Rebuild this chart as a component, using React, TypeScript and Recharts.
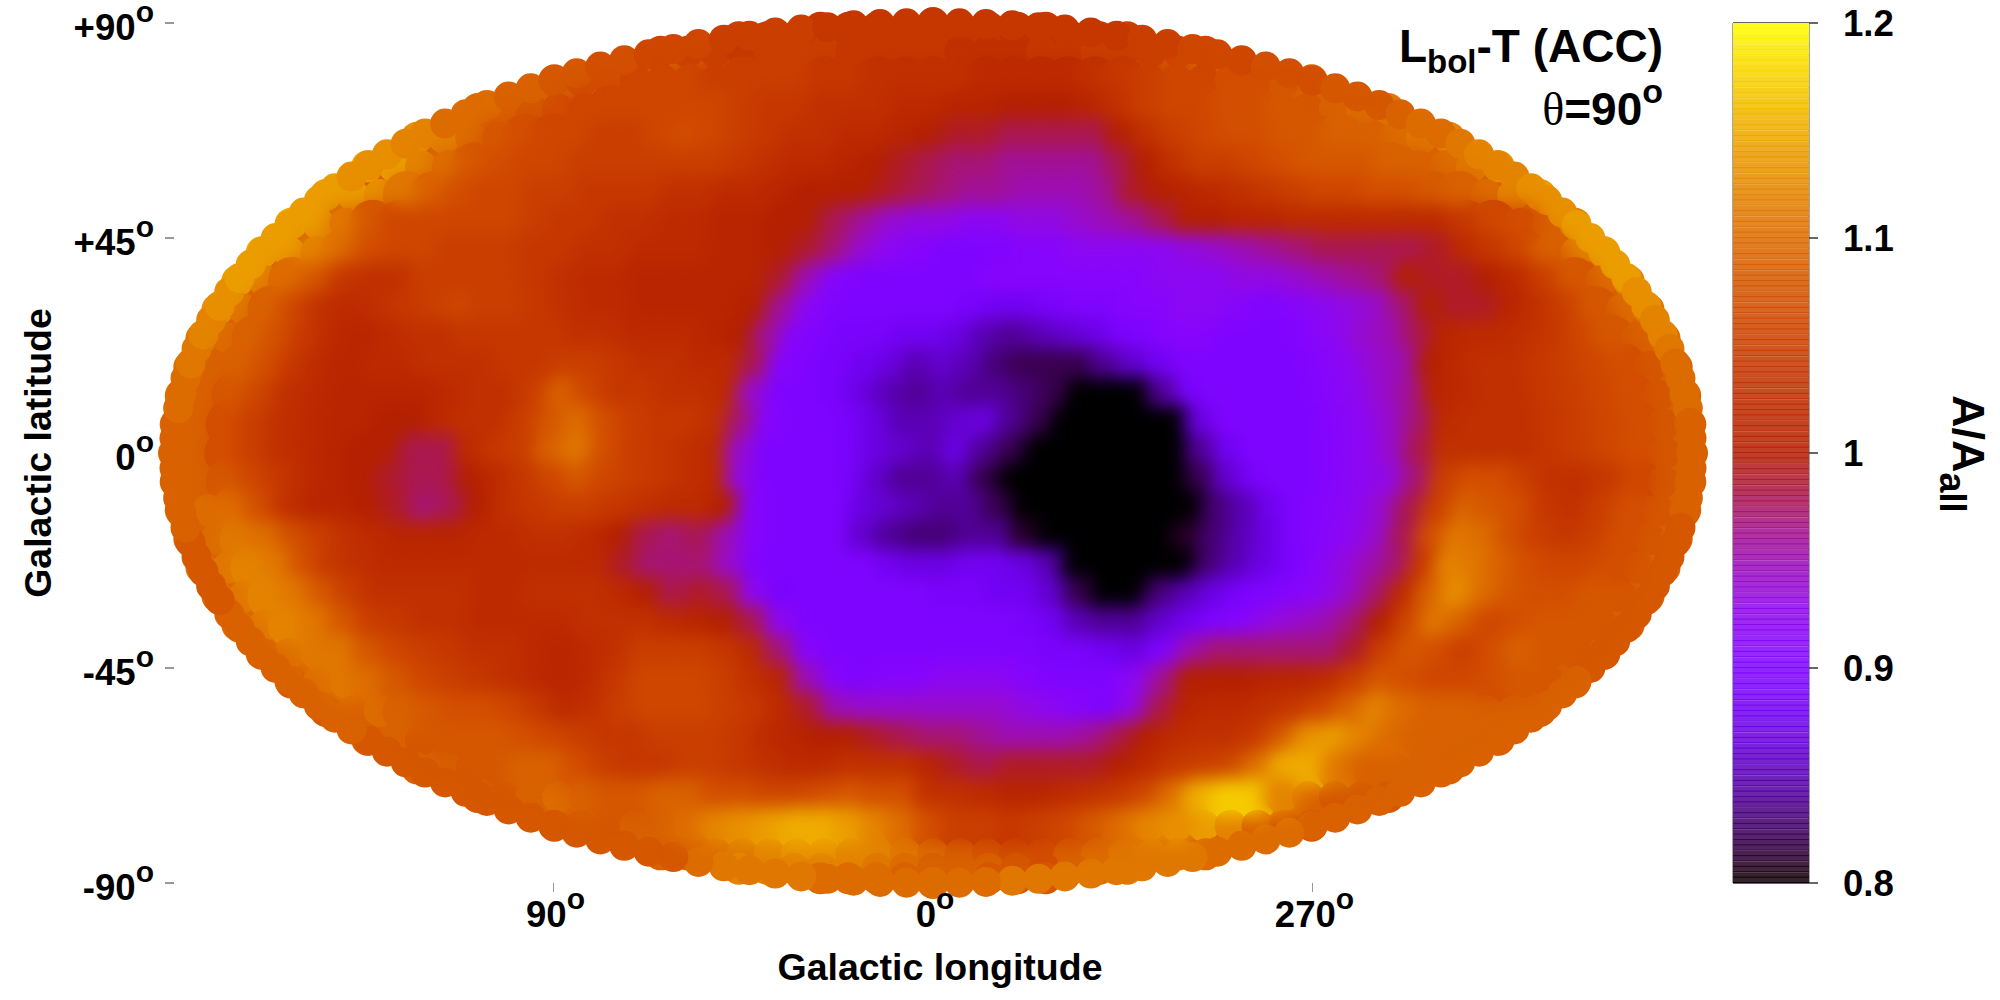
import React from "react";
import { ScatterChart, Scatter, XAxis, YAxis, ReferenceLine } from "recharts";

// A/A_all x 100, left to right on the page.
const lat90N = [104];
const lat89N = [104,104,104,104,104,104,104,104,104];
const lat87N = [105,105,105,104,104,104,104,104,104,104,103,103,104,104,105];
const lat84N = [106,105,105,104,105,105,105,104,104,104,104,103,103,103,104,104,105,105,105,106,106];
const lat78N = [108,107,107,106,106,106,105,105,105,105,104,104,103,103,103,103,102,102,102,102,103,104,105,106,106,107,107,108,109];
const lat72N = [110,109,108,107,106,106,106,106,106,106,105,104,104,103,103,103,102,102,101,101,100,100,100,101,103,105,106,106,107,107,108,108,109,110,111];
const lat66N = [113,112,110,108,107,106,106,105,105,106,107,106,105,104,103,103,102,102,101,100,99,99,98,98,98,98,100,103,105,106,107,107,108,108,109,109,110,111,112];
const lat60N = [114,114,112,110,108,107,106,106,105,105,105,105,105,105,104,103,102,102,101,100,99,98,97,97,96,96,96,96,98,100,103,105,105,106,107,108,108,108,109,109,110,111,113];
const lat54N = [114,114,113,111,109,107,106,106,105,105,104,104,104,103,103,102,102,101,100,100,100,99,98,97,96,96,95,95,95,96,99,100,101,102,103,104,105,106,106,107,107,108,109,110,112,114];
const lat48N = [115,114,111,108,106,106,106,106,106,105,104,104,103,103,102,102,101,101,100,100,98,96,94,93,93,92,92,93,93,94,95,96,98,100,100,101,101,102,102,102,102,102,102,104,106,107,109,112];
const lat42N = [115,114,112,110,107,106,106,105,105,105,104,104,103,103,102,102,102,101,101,100,99,97,94,92,91,90,90,90,91,91,92,92,92,92,93,94,95,96,97,98,98,98,98,99,102,104,106,109,112,114];
const lat36N = [114,112,110,108,104,103,103,105,105,105,105,104,103,102,102,101,101,101,101,101,99,95,91,90,90,90,90,90,91,91,91,91,91,91,92,92,92,93,93,94,95,96,97,100,99,99,100,102,105,108,110,112];
const lat30N = [113,111,109,106,103,102,103,104,105,106,105,105,104,103,102,102,101,101,101,101,100,96,92,90,90,90,90,90,89,88,88,89,90,90,91,91,92,92,91,90,91,92,93,94,97,100,99,99,101,103,105,108,110,111];
const lat24N = [111,110,109,107,104,102,101,102,103,103,104,104,104,104,103,103,102,102,102,101,100,96,91,90,89,89,88,88,87,85,84,85,86,87,89,90,91,91,90,90,90,91,92,94,95,98,101,102,102,103,104,106,108,109,110];
const lat18N = [110,109,109,107,104,102,101,102,102,103,103,103,104,104,105,105,104,103,103,102,102,98,91,90,89,88,87,85,86,85,83,82,82,82,84,86,88,90,90,90,90,90,91,92,94,95,100,102,103,103,104,105,106,107,108,109];
const lat12N = [110,109,108,106,103,102,101,101,101,101,102,103,103,105,109,106,104,104,103,103,102,94,90,90,89,87,85,84,85,84,84,83,82,80,76,76,84,89,90,90,90,90,91,92,94,96,101,102,103,103,104,105,106,107,108,109];
const lat06N = [110,109,107,105,103,102,101,101,100,100,102,103,103,105,108,110,107,105,104,104,103,97,91,90,90,89,87,85,85,86,87,84,82,78,75,75,75,78,87,90,90,90,90,91,92,94,97,102,103,103,103,104,105,106,107,108,109];
const lat00 = [110,109,107,105,103,102,101,100,100,98,98,102,104,105,109,111,107,105,104,103,102,94,90,90,90,89,87,86,85,87,84,82,77,74,74,74,74,76,84,88,90,90,90,91,92,94,98,103,103,103,103,104,105,106,107,108,109];
const lat06S = [109,109,108,106,104,102,101,100,99,98,98,100,102,104,106,108,106,105,104,103,102,93,90,90,90,89,86,84,84,85,82,80,75,74,74,74,74,75,82,86,89,90,90,91,92,93,97,105,107,107,105,103,103,104,106,108,109];
const lat12S = [109,110,110,107,103,101,101,100,99,97,98,100,103,104,105,105,104,103,102,102,100,91,90,90,90,87,86,85,84,84,82,78,75,74,74,74,74,78,83,85,88,90,91,92,94,98,105,109,108,107,104,103,105,107,108,109];
const lat18S = [109,110,111,110,107,105,103,102,101,101,101,102,102,103,103,102,100,98,97,98,95,91,90,90,90,86,84,83,83,84,84,81,77,74,74,74,75,81,83,85,87,90,91,92,94,98,107,111,110,107,105,104,105,107,108,109];
const lat24S = [110,111,112,111,107,104,103,102,102,102,102,102,102,102,102,102,99,97,97,97,94,90,90,90,90,90,88,87,87,88,88,87,85,79,75,75,76,80,83,85,87,89,91,93,95,97,104,112,111,109,107,106,106,107,108,109];
const lat30S = [110,111,112,111,108,105,103,103,103,103,102,102,103,103,103,102,100,98,99,98,92,89,90,90,90,90,90,89,89,88,88,86,82,78,79,83,85,87,89,90,91,92,94,97,102,109,113,110,108,107,107,108,108,109];
const lat36S = [110,111,112,111,108,105,104,103,103,102,102,102,102,103,103,103,102,101,100,98,92,90,90,90,90,90,90,90,90,89,88,85,84,84,86,88,90,91,93,94,95,97,100,106,111,109,106,107,108,108,108,109];
const lat42S = [109,110,111,111,108,106,105,104,103,103,102,101,102,103,105,105,105,104,102,97,91,90,90,90,90,90,90,90,90,89,89,88,87,90,95,97,97,97,97,97,99,105,108,107,105,107,109,108,108,108];
const lat48S = [108,110,111,110,108,106,105,104,103,102,101,102,104,106,106,106,105,103,101,95,91,90,91,91,92,92,92,91,90,90,90,92,96,100,100,100,101,101,102,105,108,107,106,106,107,108,108,109];
const lat54S = [108,109,110,109,108,107,107,106,104,102,103,105,106,106,106,105,104,102,99,95,94,94,94,94,94,94,93,92,91,90,93,98,101,102,102,103,104,106,109,112,110,109,109,109,109,109];
const lat60S = [109,109,108,108,108,108,107,106,105,104,104,105,105,105,104,102,101,100,100,99,98,97,97,96,95,95,95,96,98,100,102,103,103,104,108,113,114,112,110,109,109,109,109];
const lat66S = [109,109,108,108,109,109,107,105,104,104,105,105,104,103,102,102,103,103,103,101,99,98,99,99,99,99,100,102,104,105,106,110,115,115,111,109,109,109,109];
const lat72S = [108,108,109,110,109,108,108,109,109,107,107,106,106,107,108,107,107,103,103,102,101,101,102,103,104,106,110,115,117,117,112,109,108,108,108];
const lat78S = [108,108,108,109,109,110,112,113,114,115,115,114,112,110,107,105,105,104,105,106,108,110,112,113,114,112,109,108,108];
const lat84S = [109,109,110,111,112,113,113,112,112,111,110,109,108,107,107,109,110,111,111,111,110];
const lat87S = [112,112,112,112,112,111,110,109,109,109,108,107,109,110,111];
const lat89S = [110,110,110,109,109,109,108,108,108];
const lat90S = [110];

// Rim of the map, clockwise from the top, one value every 2 degrees of the ellipse.
const rimValues = [
  104,104,104,104,104,104,104,104,105,105,
  106,106,106,107,107,107,108,108,108,109,
  110,110,111,112,112,112,113,113,113,114,
  114,114,114,114,113,113,112,112,111,110,
  110,110,110,109,109,109,109,109,109,109,
  108,108,108,108,108,108,108,108,108,108,
  108,109,109,109,109,109,109,109,109,109,
  109,109,109,109,109,109,110,110,110,110,
  111,111,111,111,111,111,111,111,110,110,
  110,110,110,110,110,111,111,111,111,110,
  108,108,108,108,108,108,108,108,108,108,
  108,108,108,108,108,109,109,109,109,109,
  109,109,109,109,109,108,108,108,108,108,
  109,109,109,109,109,109,109,109,110,110,
  110,111,111,112,112,113,113,114,114,114,
  114,114,114,114,114,113,113,113,112,112,
  110,110,110,109,109,108,108,107,107,106,
  106,106,105,105,105,105,104,104,104,104,
];

const rowLatitudes = [90,89,87,84,78,72,66,60,54,48,42,36,30,24,18,12,6,0,-6,-12,-18,-24,-30,-36,-42,-48,-54,-60,-66,-72,-78,-84,-87,-89,-90];
const rowValues = [lat90N,lat89N,lat87N,lat84N,lat78N,lat72N,lat66N,lat60N,lat54N,lat48N,lat42N,lat36N,lat30N,lat24N,lat18N,lat12N,lat06N,lat00,lat06S,lat12S,lat18S,lat24S,lat30S,lat36S,lat42S,lat48S,lat54S,lat60S,lat66S,lat72S,lat78S,lat84S,lat87S,lat89S,lat90S];

const latitudeTicks = [90, 45, 0, -45, -90];
const longitudeTicks = [-90, 0, 90];
const longitudeLabels = ["90", "0", "270"];
const colorbarTicks = [0.8, 0.9, 1, 1.1, 1.2];
const colorbarLevels = [0.8,0.805,0.81,0.815,0.82,0.825,0.83,0.835,0.84,0.845,0.85,0.855,0.86,0.865,0.87,0.875,0.88,0.885,0.89,0.895,0.9,0.905,0.91,0.915,0.92,0.925,0.93,0.935,0.94,0.945,0.95,0.955,0.96,0.965,0.97,0.975,0.98,0.985,0.99,0.995,1,1.005,1.01,1.015,1.02,1.025,1.03,1.035,1.04,1.045,1.05,1.055,1.06,1.065,1.07,1.075,1.08,1.085,1.09,1.095,1.1,1.105,1.11,1.115,1.12,1.125,1.13,1.135,1.14,1.145,1.15,1.155,1.16,1.165,1.17,1.175,1.18,1.185,1.19,1.195];

const FONT = "'Liberation Sans', Arial, sans-serif";
const PLOT_TOP = 23;
const PLOT_BOTTOM = 883;
const BAND_H = (PLOT_BOTTOM - PLOT_TOP) / colorbarLevels.length;

// gnuplot "rgbformulae 7,5,15" palette between 0.8 and 1.2
function paletteColor(v: number): string {
  const t = Math.min(1, Math.max(0, (v - 0.8) / 0.4));
  const r = Math.sqrt(t);
  const g = t * t * t;
  const b = Math.max(0, Math.sin(2 * Math.PI * t));
  const c = (u: number) => Math.round(u * 255);
  return `rgb(${c(r)},${c(g)},${c(b)})`;
}

type Cell = { x: number; y: number; value: number; deep: boolean; inner: boolean };

const cells: Cell[] = rowValues.flatMap((vals, i) => {
  const lat = rowLatitudes[i];
  const s = Math.sqrt(Math.max(0, 1 - (lat / 90) ** 2));
  return vals.map((v, j) => {
    const x = vals.length > 1 ? -180 * s + (360 * s * j) / (vals.length - 1) : 0;
    const deep = (x / 170) ** 2 + (lat / 81) ** 2 < 1;
    const inner = (x / 172) ** 2 + (lat / 83) ** 2 < 1;
    return { x, y: lat, value: v / 100, deep, inner };
  });
});
const innerCells = cells.filter((c) => c.inner);

const rimCells = rimValues.map((v, k) => {
  const phi = (k * 2 * Math.PI) / rimValues.length;
  return { x: 180 * Math.sin(phi), y: 90 * Math.cos(phi), value: v / 100 };
});
const underlayPoint = [{ x: 0, y: 0, value: 1.09 }];

const Underlay = (p: any) => <ellipse cx={p.cx} cy={p.cy} rx={762} ry={432} fill={paletteColor(p.payload.value)} />;
const Dot = (p: any) => <circle cx={p.cx} cy={p.cy} r={p.payload.deep ? 24 : 16} fill={paletteColor(p.payload.value)} />;
const RimDot = (p: any) => <circle cx={p.cx} cy={p.cy} r={15} fill={paletteColor(p.payload.value)} />;
const InnerDot = (p: any) => <circle cx={p.cx} cy={p.cy} r={20} fill={paletteColor(p.payload.value)} />;

const Band = (p: any) => {
  const col = paletteColor(p.payload.level + 0.0025);
  const x0 = p.cx - 38;
  const h = BAND_H;
  return (
    <g>
      <rect x={x0} y={p.cy - h / 2} width={76} height={h} fill={col} />
      <rect x={x0} y={p.cy - h / 2} width={76} height={h / 2 - 1} fill="#ffffff" fillOpacity={0.14} />
      <rect x={x0} y={p.cy} width={76} height={h / 2 - 1} fill="#ffffff" fillOpacity={0.14} />
    </g>
  );
};

const LatTick = (p: any) => {
  const v = p.payload.value;
  const s = v > 0 ? `+${v}` : `${v}`;
  return (
    <text x={154} y={p.y + 17} textAnchor="end" fontFamily={FONT} fontWeight="bold" fontSize={36.6} fill="#000">
      {s}
      <tspan fontSize={30} dy={-18}>o</tspan>
    </text>
  );
};

const LonTick = (p: any) => {
  const i = longitudeTicks.indexOf(p.payload.value);
  return (
    <text x={p.x + 2} y={927} textAnchor="middle" fontFamily={FONT} fontWeight="bold" fontSize={36.6} fill="#000">
      {longitudeLabels[i]}
      <tspan fontSize={30} dy={-18}>o</tspan>
    </text>
  );
};

const BarTick = (p: any) => (
  <text x={1843 - 1650} y={p.y + 13} textAnchor="start" fontFamily={FONT} fontWeight="bold" fontSize={36.6} fill="#000">
    {p.payload.value === 1 ? "1" : p.payload.value.toFixed(1)}
  </text>
);

const barData = colorbarLevels.map((level) => ({ x: 0.5, y: level + 0.0025, level }));

export default function App() {
  return (
    <div style={{ position: "absolute", left: 0, top: 0, width: 2000, height: 1000, background: "#fff", overflow: "hidden" }}>
      <style>{`.map-smooth { filter: blur(9px); }`}</style>
      <div style={{ position: "absolute", left: 0, top: 0 }}>
        <ScatterChart width={1730} height={1000} margin={{ top: PLOT_TOP, right: 38, bottom: 0, left: 0 }}>
          <XAxis
            type="number"
            dataKey="x"
            domain={[-180, 180]}
            ticks={longitudeTicks}
            height={117}
            axisLine={false}
            tickLine={{ stroke: "#999", strokeWidth: 1 }}
            tickSize={9}
            tick={<LonTick />}
            interval={0}
            label={{ value: "Galactic longitude", position: "insideBottom", offset: 20, fontFamily: FONT, fontWeight: "bold", fontSize: 37.5, fill: "#000", dx: 7 }}
          />
          <YAxis
            type="number"
            dataKey="y"
            domain={[-90, 90]}
            ticks={latitudeTicks}
            width={174}
            axisLine={false}
            tickLine={{ stroke: "#333", strokeWidth: 1 }}
            tickSize={9}
            tick={<LatTick />}
            interval={0}
            label={{ value: "Galactic latitude", angle: -90, position: "insideLeft", offset: 38, fontFamily: FONT, fontWeight: "bold", fontSize: 37.5, fill: "#000", style: { textAnchor: "middle" } }}
          />
          <Scatter data={underlayPoint} shape={<Underlay />} isAnimationActive={false} />
          <Scatter data={cells} shape={<Dot />} isAnimationActive={false} />
          <Scatter data={rimCells} shape={<RimDot />} isAnimationActive={false} />
          <Scatter data={innerCells} shape={<InnerDot />} isAnimationActive={false} className="map-smooth" />
        </ScatterChart>
      </div>
      <div style={{ position: "absolute", left: 1650, top: 0 }}>
        <ScatterChart width={350} height={1000} margin={{ top: PLOT_TOP, right: 0, bottom: 1000 - PLOT_BOTTOM, left: 83 }}>
          <XAxis type="number" dataKey="x" domain={[0, 1]} hide />
          <YAxis
            type="number"
            dataKey="y"
            orientation="right"
            domain={[0.8, 1.2]}
            ticks={colorbarTicks}
            width={191}
            axisLine={false}
            tickLine={{ stroke: "#333", strokeWidth: 1.5 }}
            tickSize={9}
            tick={<BarTick />}
            interval={0}
          />
          <Scatter data={barData} shape={<Band />} isAnimationActive={false} />
          <ReferenceLine x={0} stroke="#888" strokeWidth={1.5} />
          <ReferenceLine x={1} stroke="#888" strokeWidth={1.5} />
          <ReferenceLine y={1.2} stroke="#333" strokeWidth={1.5} />
          <ReferenceLine y={0.8} stroke="#333" strokeWidth={1.5} />
        </ScatterChart>
      </div>
      <svg width={2000} height={1000} style={{ position: "absolute", left: 0, top: 0, pointerEvents: "none" }}>
        <text x={1663} y={62} textAnchor="end" fontFamily={FONT} fontWeight="bold" fontSize={46} fill="#000">
          L<tspan fontSize={33} dy={11}>bol</tspan><tspan dy={-11}>-T (ACC)</tspan>
        </text>
        <text x={1663} y={125} textAnchor="end" fontFamily={FONT} fontWeight="bold" fontSize={46} fill="#000">
          <tspan fontFamily="'Liberation Serif', serif" fontWeight="normal">θ</tspan>=90<tspan fontSize={34} dy={-22}>o</tspan>
        </text>
        <text transform="translate(1953,395) rotate(90)" fontFamily={FONT} fontWeight="bold" fontSize={45} fill="#000">
          A/A<tspan fontSize={36} dy={13}>all</tspan>
        </text>
      </svg>
    </div>
  );
}
